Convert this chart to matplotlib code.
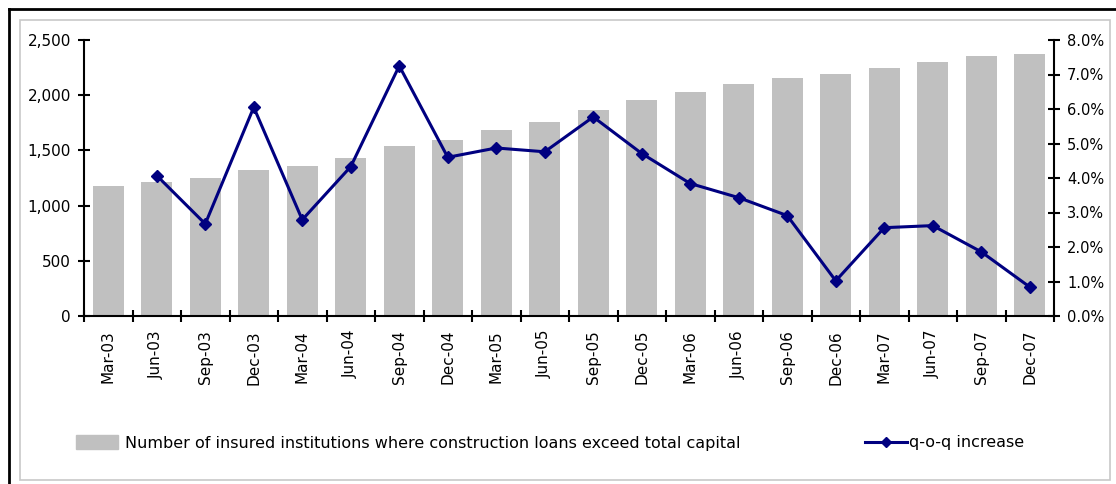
import matplotlib
matplotlib.use("Agg")
import matplotlib.pyplot as plt
from matplotlib.patches import Rectangle, Patch
from matplotlib.lines import Line2D
from matplotlib.ticker import FuncFormatter
import numpy as np

quarters = ["Mar-03", "Jun-03", "Sep-03", "Dec-03", "Mar-04", "Jun-04", "Sep-04",
            "Dec-04", "Mar-05", "Jun-05", "Sep-05", "Dec-05", "Mar-06", "Jun-06",
            "Sep-06", "Dec-06", "Mar-07", "Jun-07", "Sep-07", "Dec-07"]
institutions = [1180, 1215, 1250, 1322, 1360, 1432, 1540, 1595, 1685, 1757,
                1866, 1957, 2030, 2100, 2157, 2192, 2245, 2300, 2356, 2377]
qoq_pct = [np.nan, 4.07, 2.67, 6.05, 2.79, 4.33, 7.25, 4.60, 4.87, 4.76,
           5.77, 4.71, 3.84, 3.43, 2.91, 1.02, 2.56, 2.62, 1.86, 0.84]

bar_label = "Number of insured institutions where construction loans exceed total capital"
line_label = "q-o-q increase"

W, H = 1116, 484
plt.rcParams['font.family'] = ['DejaVu Sans']
fig = plt.figure(figsize=(W / 100, H / 100), dpi=100)

# chart frame
fig.patches.append(Rectangle((20 / W, 1 - 480 / H), 1090 / W, 460 / H, transform=fig.transFigure,
                             fill=False, edgecolor="#c8c8c8", linewidth=1.2))
fig.lines.append(Line2D([9 / W, 1], [1 - 9 / H, 1 - 9 / H], transform=fig.transFigure,
                        color="black", linewidth=2))
fig.lines.append(Line2D([9 / W, 9 / W], [0, 1 - 9 / H], transform=fig.transFigure,
                        color="black", linewidth=2))

ax = fig.add_axes([84 / W, 1 - 316 / H, 970 / W, 276 / H])
x = np.arange(len(quarters))
bars = ax.bar(x, institutions, width=0.63, color="#c0c0c0", zorder=2)
ax.set_xlim(-0.5, len(quarters) - 0.5)
ax.set_ylim(0, 2500)
ax.set_yticks(np.arange(0, 2501, 500))
ax.yaxis.set_major_formatter(FuncFormatter(lambda v, p: f"{v:,.0f}"))
ax.set_xticks(x)
ax.set_xticklabels(quarters, rotation=90, fontsize=11)
ax.set_xticks(np.arange(-0.5, len(quarters)), minor=True)
ax.tick_params(axis="x", which="major", length=0, pad=10)
ax.tick_params(axis="x", which="minor", length=9, width=1.5, direction="inout")
ax.tick_params(axis="y", length=9, width=1.5, direction="inout", labelsize=11, pad=5)
for s in ["top", "right"]:
    ax.spines[s].set_visible(False)
ax.spines["left"].set_linewidth(1.5)
ax.spines["bottom"].set_linewidth(1.5)

ax2 = ax.twinx()
ln, = ax2.plot(x, qoq_pct, color="#000080", linewidth=2.2, marker="D", markersize=6, zorder=3)
ax2.set_ylim(0, 8)
ax2.set_yticks(np.arange(0, 8.1, 1))
ax2.yaxis.set_major_formatter(FuncFormatter(lambda v, p: f"{v:.1f}%"))
ax2.tick_params(axis="y", length=9, width=1.5, direction="inout", labelsize=10.5, pad=5)
for s in ["top", "left", "bottom"]:
    ax2.spines[s].set_visible(False)
ax2.spines["right"].set_linewidth(1.5)

fig.legend(handles=[Patch(color="#c0c0c0", label=bar_label)], loc="center left",
           bbox_to_anchor=(76 / W, 1 - 443 / H), frameon=False, fontsize=11.5,
           borderpad=0, borderaxespad=0, handlelength=2.6, handleheight=0.9,
           handletextpad=0.45)
fig.legend(handles=[Line2D([], [], color="#000080", linewidth=2.2, marker="D",
                           markersize=5, label=line_label)],
           loc="center left", bbox_to_anchor=(865 / W, 1 - 443 / H), frameon=False,
           fontsize=11.5, borderpad=0, borderaxespad=0, handlelength=2.6,
           handletextpad=0.15)

fig.savefig("out.png", dpi=100)
